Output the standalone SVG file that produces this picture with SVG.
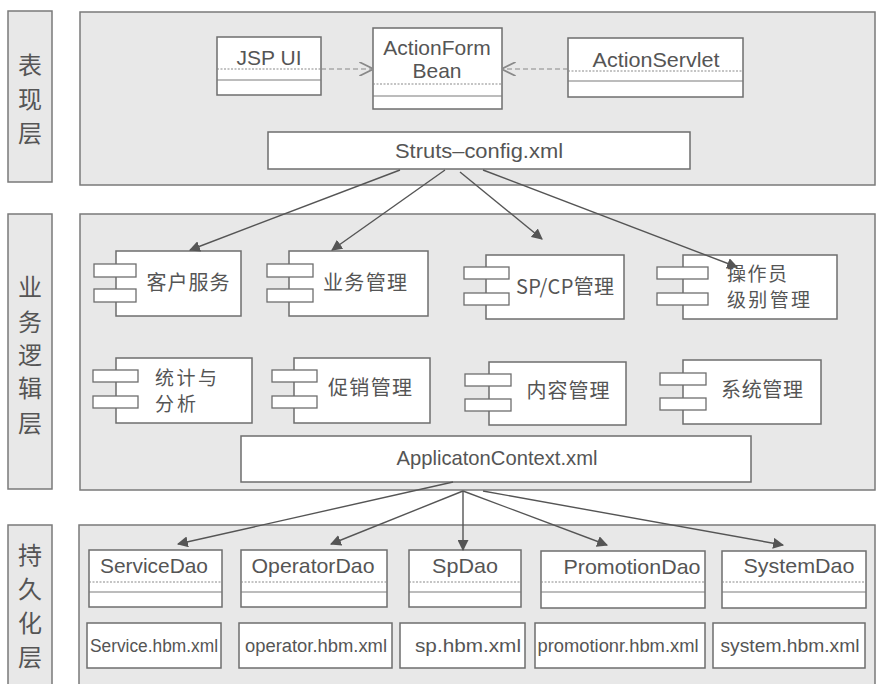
<svg xmlns="http://www.w3.org/2000/svg" width="878" height="684" viewBox="0 0 878 684">
<style>
.panel{fill:#e8e8e8;stroke:#7a7a7a;stroke-width:1.5}
.box{fill:#ffffff;stroke:#6e6e6e;stroke-width:1.5}
.tab{fill:#ffffff;stroke:#6e6e6e;stroke-width:1.3}
.sep{stroke:#7a7a7a;stroke-width:1.2;fill:none}
.dot{stroke:#8a8a8a;stroke-width:1.2;stroke-dasharray:2 1.5;fill:none}
.lbl{font-family:"Noto Sans CJK SC","Noto Sans",sans-serif;font-size:24px;fill:#555;text-anchor:middle}
.t{font-family:"Liberation Sans","Noto Sans CJK SC",sans-serif;font-size:21px;fill:#555}
.c{text-anchor:middle}
.cn{font-family:"Noto Sans CJK SC","Liberation Sans",sans-serif;font-size:20px;fill:#555}
.cn2{font-family:"Noto Sans CJK SC","Liberation Sans",sans-serif;font-size:19px;fill:#555}
.s{font-size:18px}
.con{stroke:#555;stroke-width:1.4;fill:none}
.dash{stroke:#888;stroke-width:1.2;fill:none;stroke-dasharray:5 3}
</style>
<defs>
<marker id="fa" viewBox="0 0 10 10" refX="9" refY="5" markerWidth="11" markerHeight="11" markerUnits="userSpaceOnUse" orient="auto">
<path d="M0,0 L10,5 L0,10 Z" fill="#555"/>
</marker>
<marker id="oa" viewBox="0 0 10 10" refX="9" refY="5" markerWidth="14" markerHeight="14" markerUnits="userSpaceOnUse" orient="auto">
<path d="M0,0 L10,5 L0,10" fill="none" stroke="#888" stroke-width="1.2"/>
</marker>
</defs>
<rect width="878" height="684" fill="#ffffff"/>

<g id="layer-presentation">
<rect class="panel" x="8" y="11" width="44" height="171"/>
<text class="lbl" x="30" y="74">表</text>
<text class="lbl" x="30" y="108">现</text>
<text class="lbl" x="30" y="142">层</text>
<rect class="panel" x="80" y="12" width="795" height="173"/>
</g>
<g id="layer-business">
<rect class="panel" x="8" y="214" width="44" height="275"/>
<text class="lbl" x="30" y="296">业</text>
<text class="lbl" x="30" y="331">务</text>
<text class="lbl" x="30" y="364">逻</text>
<text class="lbl" x="30" y="397">辑</text>
<text class="lbl" x="30" y="432">层</text>
<rect class="panel" x="80" y="214" width="795" height="276"/>
</g>
<g id="layer-persistence">
<rect class="panel" x="8" y="525" width="44" height="170"/>
<text class="lbl" x="30" y="564">持</text>
<text class="lbl" x="30" y="598">久</text>
<text class="lbl" x="30" y="632">化</text>
<text class="lbl" x="30" y="666">层</text>
<rect class="panel" x="79" y="525" width="796" height="170"/>
</g>

<g id="jsp-ui">
<rect class="box" x="217" y="37" width="104" height="58"/>
<line class="dot" x1="217" y1="69" x2="321" y2="69"/>
<line class="sep" x1="217" y1="80" x2="321" y2="80"/>
<text class="t c" x="269" y="65">JSP UI</text>
</g>
<g id="actionform-bean">
<rect class="box" x="373" y="28" width="129" height="81"/>
<line class="dot" x1="373" y1="84" x2="502" y2="84"/>
<line class="sep" x1="373" y1="96" x2="502" y2="96"/>
<text class="t c" x="437" y="55">ActionForm</text>
<text class="t c" x="437" y="78">Bean</text>
</g>
<g id="actionservlet">
<rect class="box" x="568" y="38" width="175" height="59"/>
<line class="dot" x1="568" y1="71" x2="743" y2="71"/>
<line class="sep" x1="568" y1="81" x2="743" y2="81"/>
<text class="t c" x="656" y="67" textLength="127" lengthAdjust="spacingAndGlyphs">ActionServlet</text>
</g>
<g id="struts-config">
<rect class="box" x="268" y="132" width="422" height="37"/>
<text class="t c" x="479" y="158" textLength="168" lengthAdjust="spacingAndGlyphs">Struts–config.xml</text>
</g>

<g id="kehu-fuwu">
<rect class="box" x="116" y="251" width="125" height="65"/>
<rect class="tab" x="94" y="264" width="42" height="13"/>
<rect class="tab" x="94" y="289" width="42" height="13"/>
<text class="cn c" x="188" y="290" textLength="83">客户服务</text>
</g>
<g id="yewu-guanli">
<rect class="box" x="289" y="251" width="139" height="65"/>
<rect class="tab" x="267" y="264" width="46" height="13"/>
<rect class="tab" x="267" y="289" width="46" height="13"/>
<text class="cn c" x="365" y="290" textLength="84">业务管理</text>
</g>
<g id="spcp-guanli">
<rect class="box" x="486" y="255" width="138" height="64"/>
<rect class="tab" x="464" y="267" width="45" height="12"/>
<rect class="tab" x="464" y="293" width="45" height="12"/>
<text class="cn c" x="565" y="294" textLength="98">SP/CP管理</text>
</g>
<g id="caozuoyuan-guanli">
<rect class="box" x="683" y="255" width="154" height="64"/>
<rect class="tab" x="657" y="267" width="51" height="12"/>
<rect class="tab" x="657" y="293" width="51" height="12"/>
<text class="cn2" x="727" y="281" textLength="60">操作员</text>
<text class="cn2" x="727" y="307" textLength="83">级别管理</text>
</g>
<g id="tongji-fenxi">
<rect class="box" x="116" y="358" width="136" height="65"/>
<rect class="tab" x="93" y="370" width="45" height="12"/>
<rect class="tab" x="93" y="396" width="45" height="12"/>
<text class="cn2" x="155" y="385" textLength="62">统计与</text>
<text class="cn2" x="155" y="411" textLength="41">分析</text>
</g>
<g id="cuxiao-guanli">
<rect class="box" x="294" y="358" width="136" height="65"/>
<rect class="tab" x="272" y="370" width="45" height="12"/>
<rect class="tab" x="272" y="396" width="45" height="12"/>
<text class="cn c" x="370" y="395" textLength="84">促销管理</text>
</g>
<g id="neirong-guanli">
<rect class="box" x="489" y="362" width="137" height="63"/>
<rect class="tab" x="465" y="374" width="46" height="12"/>
<rect class="tab" x="465" y="399" width="46" height="12"/>
<text class="cn c" x="568" y="398" textLength="83">内容管理</text>
</g>
<g id="xitong-guanli">
<rect class="box" x="683" y="360" width="138" height="64"/>
<rect class="tab" x="660" y="373" width="46" height="12"/>
<rect class="tab" x="660" y="398" width="46" height="12"/>
<text class="cn c" x="762" y="397" textLength="82">系统管理</text>
</g>
<g id="applicationcontext">
<rect class="box" x="241" y="436" width="510" height="46"/>
<text class="t c" x="497" y="465" textLength="201" lengthAdjust="spacingAndGlyphs">ApplicatonContext.xml</text>
</g>

<g id="servicedao">
<rect class="box" x="89" y="550" width="133" height="57"/>
<line class="dot" x1="89" y1="582" x2="222" y2="582"/>
<line class="sep" x1="89" y1="592" x2="222" y2="592"/>
<text class="t c" x="154" y="573" textLength="108" lengthAdjust="spacingAndGlyphs">ServiceDao</text>
</g>
<g id="operatordao">
<rect class="box" x="241" y="550" width="146" height="57"/>
<line class="dot" x1="241" y1="582" x2="387" y2="582"/>
<line class="sep" x1="241" y1="592" x2="387" y2="592"/>
<text class="t c" x="313" y="573" textLength="123" lengthAdjust="spacingAndGlyphs">OperatorDao</text>
</g>
<g id="spdao">
<rect class="box" x="409" y="550" width="112" height="57"/>
<line class="dot" x1="409" y1="582" x2="521" y2="582"/>
<line class="sep" x1="409" y1="592" x2="521" y2="592"/>
<text class="t c" x="465" y="573" textLength="66" lengthAdjust="spacingAndGlyphs">SpDao</text>
</g>
<g id="promotiondao">
<rect class="box" x="541" y="551" width="164" height="57"/>
<line class="dot" x1="541" y1="582" x2="705" y2="582"/>
<line class="sep" x1="541" y1="592" x2="705" y2="592"/>
<text class="t c" x="632" y="574" textLength="137" lengthAdjust="spacingAndGlyphs">PromotionDao</text>
</g>
<g id="systemdao">
<rect class="box" x="722" y="551" width="144" height="57"/>
<line class="dot" x1="722" y1="582" x2="866" y2="582"/>
<line class="sep" x1="722" y1="592" x2="866" y2="592"/>
<text class="t c" x="799" y="573" textLength="111" lengthAdjust="spacingAndGlyphs">SystemDao</text>
</g>

<g id="service-hbm">
<rect class="box" x="87" y="623" width="134" height="45"/>
<text class="t s c" x="154" y="652" textLength="128" lengthAdjust="spacingAndGlyphs">Service.hbm.xml</text>
</g>
<g id="operator-hbm">
<rect class="box" x="239" y="623" width="153" height="45"/>
<text class="t s c" x="316" y="652" textLength="142" lengthAdjust="spacingAndGlyphs">operator.hbm.xml</text>
</g>
<g id="sp-hbm">
<rect class="box" x="400" y="623" width="125" height="45"/>
<text class="t s c" x="468" y="652" textLength="106" lengthAdjust="spacingAndGlyphs">sp.hbm.xml</text>
</g>
<g id="promotion-hbm">
<rect class="box" x="535" y="623" width="170" height="45"/>
<text class="t s c" x="618" y="652" textLength="161" lengthAdjust="spacingAndGlyphs">promotionr.hbm.xml</text>
</g>
<g id="system-hbm">
<rect class="box" x="713" y="623" width="152" height="45"/>
<text class="t s c" x="790" y="652" textLength="139" lengthAdjust="spacingAndGlyphs">system.hbm.xml</text>
</g>

<g id="connectors">
<line class="dash" x1="321" y1="69" x2="372" y2="69" marker-end="url(#oa)"/>
<line class="dash" x1="568" y1="69" x2="503" y2="69" marker-end="url(#oa)"/>
<line class="con" x1="400" y1="170" x2="190" y2="250" marker-end="url(#fa)"/>
<line class="con" x1="445" y1="170" x2="332" y2="250" marker-end="url(#fa)"/>
<line class="con" x1="460" y1="172" x2="542" y2="239" marker-end="url(#fa)"/>
<line class="con" x1="483" y1="170" x2="737" y2="267" marker-end="url(#fa)"/>
<line class="con" x1="453" y1="482" x2="178" y2="544" marker-end="url(#fa)"/>
<line class="con" x1="463" y1="491" x2="331" y2="544" marker-end="url(#fa)"/>
<line class="con" x1="463" y1="491" x2="463" y2="550" marker-end="url(#fa)"/>
<line class="con" x1="463" y1="491" x2="607" y2="545" marker-end="url(#fa)"/>
<line class="con" x1="483" y1="491" x2="783" y2="545" marker-end="url(#fa)"/>
</g>
</svg>
